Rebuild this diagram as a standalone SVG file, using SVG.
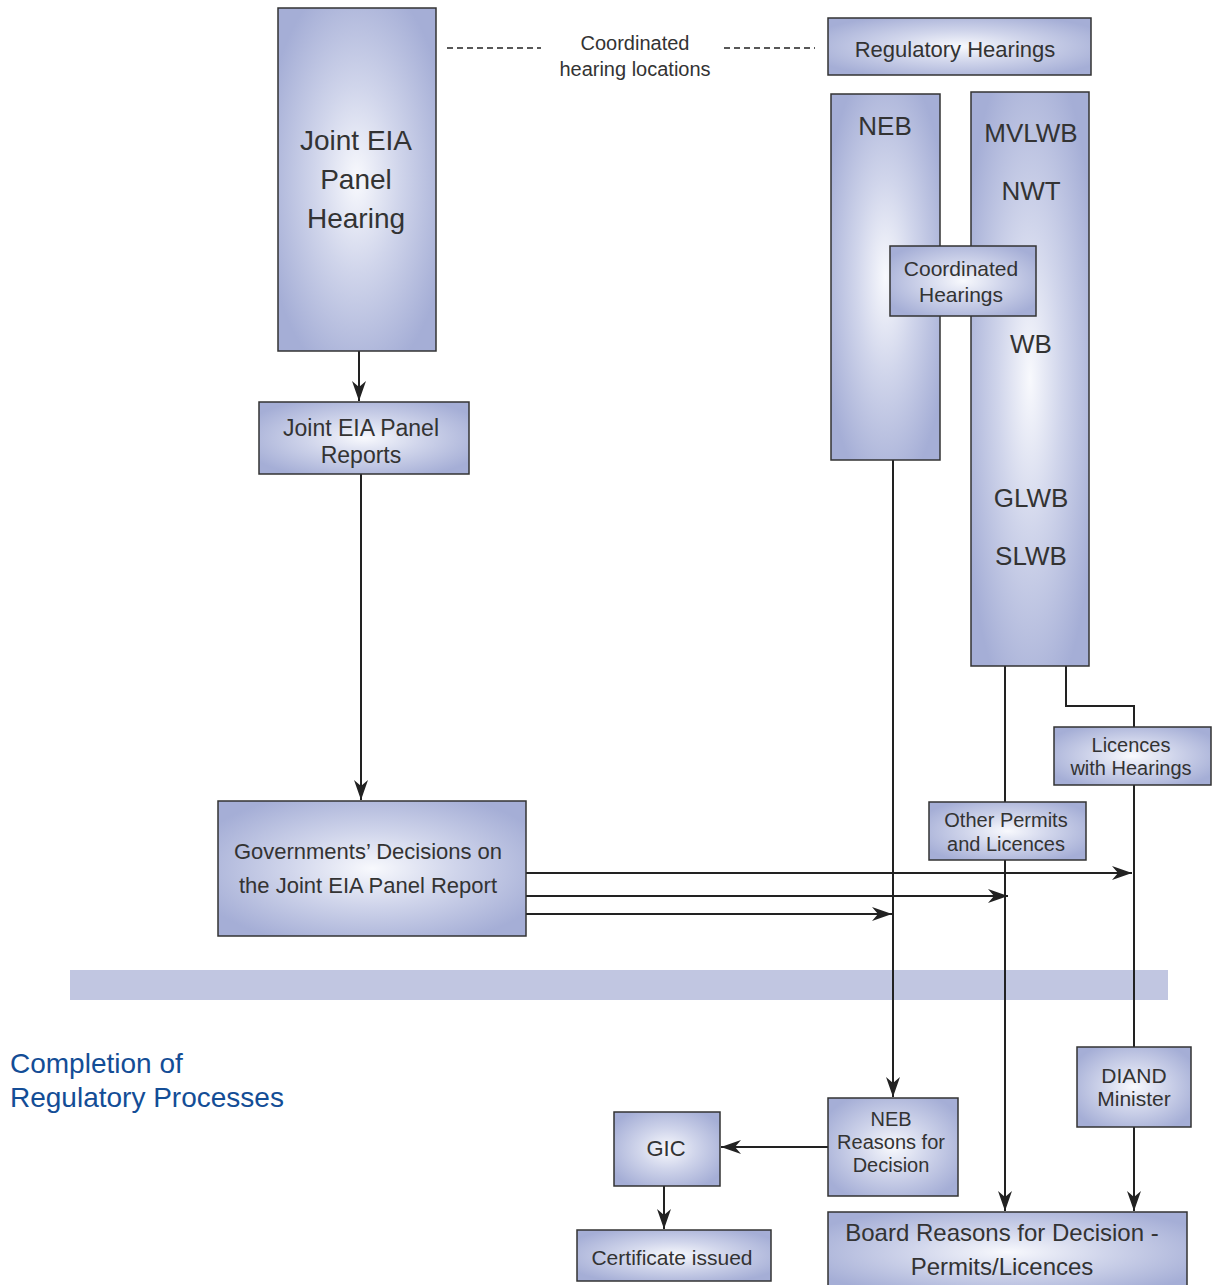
<svg xmlns="http://www.w3.org/2000/svg" width="1212" height="1285" viewBox="0 0 1212 1285">
<style>
.box{fill:url(#g);stroke:#333;stroke-width:1.5}
.t{font-family:"Liberation Sans",Arial,sans-serif;fill:#333;text-anchor:middle}
.ln{fill:none;stroke:#222;stroke-width:2}
.ar{fill:none;stroke:#222;stroke-width:2;marker-end:url(#ah)}
.dash{stroke:#222;stroke-width:1.5;stroke-dasharray:6 4}
.title{font-family:"Liberation Sans",Arial,sans-serif;fill:#134d96;font-size:28px}
</style>
<defs>
<radialGradient id="g" cx="0.5" cy="0.5" r="0.6">
<stop offset="0" stop-color="#f8f9fd"/>
<stop offset="0.45" stop-color="#d0d5eb"/>
<stop offset="1" stop-color="#a5aed6"/>
</radialGradient>
<marker id="ah" markerUnits="userSpaceOnUse" markerWidth="22" markerHeight="16" refX="20" refY="7" orient="auto">
<path d="M0,0 L20,7 L0,14 L6,7 z" fill="#222"/>
</marker>
</defs>

<rect id="band" x="70" y="970" width="1098" height="30" fill="#c1c6e1"/>

<g id="connectors">
<line class="dash" x1="447" y1="48" x2="541" y2="48"/>
<line class="dash" x1="724" y1="48" x2="815" y2="48"/>
<line class="ar" x1="359" y1="351" x2="359" y2="401"/>
<line class="ar" x1="361" y1="474" x2="361" y2="800"/>
<line class="ar" x1="526" y1="873" x2="1132" y2="873"/>
<line class="ar" x1="526" y1="896" x2="1008" y2="896"/>
<line class="ar" x1="526" y1="914" x2="892" y2="914"/>
<line class="ar" x1="893" y1="460" x2="893" y2="1097"/>
<line class="ar" x1="1005" y1="666" x2="1005" y2="1211"/>
<polyline class="ln" points="1066,666 1066,706 1134,706 1134,727"/>
<line class="ln" x1="1134" y1="785" x2="1134" y2="1047"/>
<line class="ar" x1="1134" y1="1127" x2="1134" y2="1211"/>
<line class="ar" x1="828" y1="1147" x2="721" y2="1147"/>
<line class="ar" x1="664" y1="1186" x2="664" y2="1229"/>
</g>

<g id="coord-label">
<text class="t" x="635" y="50" font-size="20">Coordinated</text>
<text class="t" x="635" y="76" font-size="20">hearing locations</text>
</g>

<g id="joint-hearing">
<rect class="box" x="278" y="8" width="158" height="343"/>
<text class="t" x="356" y="150" font-size="28">Joint EIA</text>
<text class="t" x="356" y="189" font-size="28">Panel</text>
<text class="t" x="356" y="228" font-size="28">Hearing</text>
</g>

<g id="joint-reports">
<rect class="box" x="259" y="402" width="210" height="72"/>
<text class="t" x="361" y="436" font-size="23">Joint EIA Panel</text>
<text class="t" x="361" y="463" font-size="23">Reports</text>
</g>

<g id="gov-decisions">
<rect class="box" x="218" y="801" width="308" height="135"/>
<text class="t" x="368" y="859" font-size="22">Governments’ Decisions on</text>
<text class="t" x="368" y="893" font-size="22">the Joint EIA Panel Report</text>
</g>

<g id="reg-hearings">
<rect class="box" x="828" y="18" width="263" height="57"/>
<text class="t" x="955" y="57" font-size="22">Regulatory Hearings</text>
</g>

<g id="neb">
<rect class="box" x="831" y="94" width="109" height="366"/>
<text class="t" x="885" y="135" font-size="26">NEB</text>
</g>

<g id="boards">
<rect class="box" x="971" y="92" width="118" height="574"/>
<text class="t" x="1031" y="142" font-size="26">MVLWB</text>
<text class="t" x="1031" y="200" font-size="26">NWT</text>
<text class="t" x="1031" y="353" font-size="26">WB</text>
<text class="t" x="1031" y="507" font-size="26">GLWB</text>
<text class="t" x="1031" y="565" font-size="26">SLWB</text>
</g>

<g id="coord-hearings">
<rect class="box" x="890" y="246" width="146" height="70"/>
<text class="t" x="961" y="276" font-size="21">Coordinated</text>
<text class="t" x="961" y="302" font-size="21">Hearings</text>
</g>

<g id="licences-hearings">
<rect class="box" x="1054" y="727" width="157" height="58"/>
<text class="t" x="1131" y="752" font-size="20">Licences</text>
<text class="t" x="1131" y="775" font-size="20">with Hearings</text>
</g>

<g id="other-permits">
<rect class="box" x="929" y="802" width="157" height="58"/>
<text class="t" x="1006" y="827" font-size="20">Other Permits</text>
<text class="t" x="1006" y="851" font-size="20">and Licences</text>
</g>

<g id="section-title">
<text class="title" x="10" y="1073">Completion of</text>
<text class="title" x="10" y="1107">Regulatory Processes</text>
</g>

<g id="diand">
<rect class="box" x="1077" y="1047" width="114" height="80"/>
<text class="t" x="1134" y="1083" font-size="21">DIAND</text>
<text class="t" x="1134" y="1106" font-size="21">Minister</text>
</g>

<g id="neb-reasons">
<rect class="box" x="828" y="1098" width="130" height="98"/>
<text class="t" x="891" y="1126" font-size="20">NEB</text>
<text class="t" x="891" y="1149" font-size="20">Reasons for</text>
<text class="t" x="891" y="1172" font-size="20">Decision</text>
</g>

<g id="gic">
<rect class="box" x="614" y="1112" width="106" height="74"/>
<text class="t" x="666" y="1156" font-size="22">GIC</text>
</g>

<g id="certificate">
<rect class="box" x="577" y="1230" width="194" height="51"/>
<text class="t" x="672" y="1265" font-size="21">Certificate issued</text>
</g>

<g id="board-reasons">
<rect class="box" x="828" y="1212" width="359" height="80"/>
<text class="t" x="1002" y="1241" font-size="24">Board Reasons for Decision -</text>
<text class="t" x="1002" y="1275" font-size="24">Permits/Licences</text>
</g>
</svg>
